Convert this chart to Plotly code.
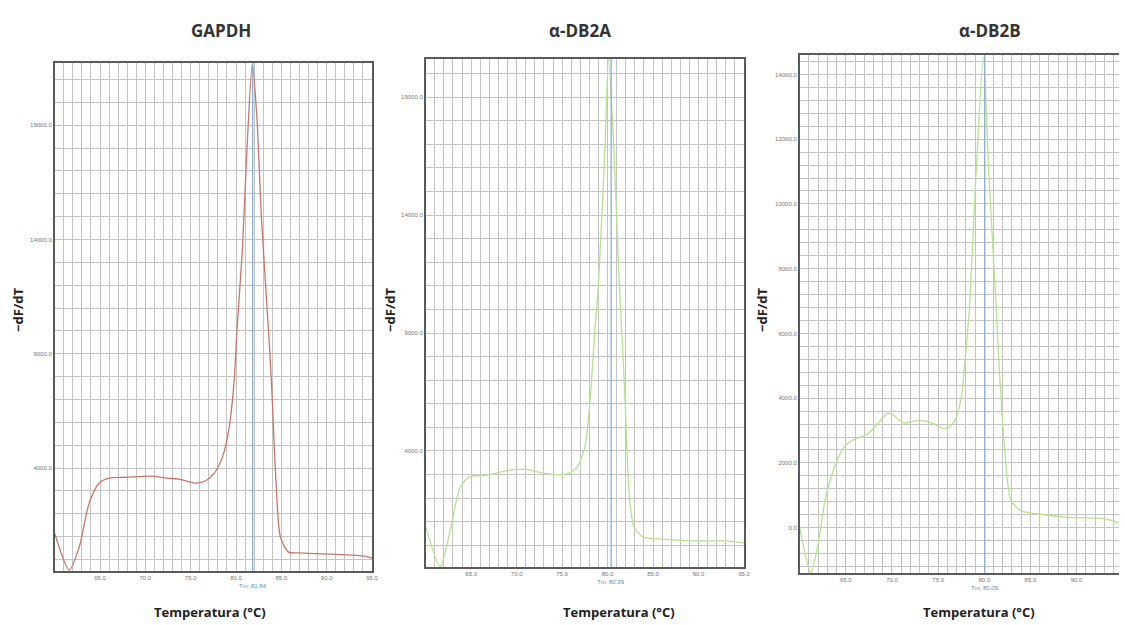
import plotly.graph_objects as go

# ---------------- data ----------------
titles = ["GAPDH", "α-DB2A", "α-DB2B"]
tm_values = [81.84, 80.39, 80.05]
tm_labels = ["Tm: 81.84", "Tm: 80.39", "Tm: 80.05"]

gapdh_temp = [60.0, 61.6, 62.7, 63.8, 64.9, 66.0, 67.9, 70.8, 72.3, 73.7, 75.6, 76.7, 77.6,
              78.5, 79.2, 79.8, 80.1, 80.7, 81.2, 81.8, 82.3, 82.8, 83.6, 83.9, 84.4, 84.9,
              85.8, 86.9, 90.5, 94.2, 95.0]
gapdh_val = [1150, -460, 540, 2470, 3340, 3560, 3600, 3650, 3560, 3520, 3345, 3460, 3780,
             4480, 5660, 7850, 10040, 13540, 17900, 21700, 19360, 14980, 9900, 7850, 3475, 980,
             325, 290, 237, 150, 60]

db2a_temp = [60.0, 61.6, 62.7, 63.8, 64.8, 66.8, 69.3, 70.8, 72.3, 73.7, 75.5, 76.6, 77.5,
             78.1, 78.6, 79.0, 79.7, 80.1, 80.7, 81.2, 81.7, 81.9, 82.4, 82.9, 83.9, 85.7,
             89.4, 93.0, 95.0]
db2a_val = [780, -900, 650, 2470, 2900, 2980, 3190, 3230, 3110, 3020, 3020, 3280, 4170,
            6290, 9130, 11120, 16760, 20600, 16760, 11800, 8000, 6290, 2050, 780, 350, 270,
            185, 185, 100]

db2b_temp = [60.0, 61.2, 62.0, 62.8, 63.9, 64.9, 66.0, 67.4, 68.5, 69.6, 70.3, 71.2, 72.5,
             73.5, 74.6, 75.7, 76.4, 77.1, 77.6, 78.0, 78.4, 79.1, 79.9, 80.5, 81.3, 81.6,
             82.2, 82.9, 84.0, 85.7, 89.4, 92.9, 94.6]
db2b_val = [0, -1390, -490, 920, 1970, 2525, 2740, 2900, 3235, 3540, 3450, 3235, 3300,
            3300, 3200, 3050, 3150, 3510, 4220, 5450, 6780, 10900, 14540, 10900, 6780, 5050,
            2460, 830, 520, 430, 310, 280, 150]

x_tick_vals = [65, 70, 75, 80, 85, 90, 95]
y_tick_vals_ab = [4000, 9000, 14000, 19000]
y_tick_vals_c = [0, 2000, 4000, 6000, 8000, 10000, 12000, 14000]

x_ranges = [[60, 95], [60, 95], [60, 94.6]]
y_ranges = [[-500, 21720], [-920, 20620], [-1400, 14600]]
y_minor = [1000, 1000, 400]

curve_colors = ["#c8766c", "#b9e08f", "#b9e08f"]

# ---------------- layout geometry (pixels) ----------------
W, H = 1125, 625
panels_px = [  # left, right, top, bottom
    (55, 374, 63, 571),
    (428, 748, 59, 567),
    (804, 1125, 55, 573),
]
title_px = [222, 583, 995]
ytitle_x = [18, 392, 766]
xtitle_cx = [211, 622, 984]

fig = go.Figure()
series = [(gapdh_temp, gapdh_val), (db2a_temp, db2a_val), (db2b_temp, db2b_val)]
ytick_sets = [y_tick_vals_ab, y_tick_vals_ab, y_tick_vals_c]

grid_col = "#c4c4c4"
frame_col = "#5a5a5a"

for i, ((xs, ys), (l, r, t, b)) in enumerate(zip(series, panels_px)):
    n = "" if i == 0 else str(i + 1)
    fig.add_trace(go.Scatter(
        x=xs, y=ys, mode="lines", line=dict(color=curve_colors[i], width=1.3, shape="spline", smoothing=0.7),
        xaxis="x" + n, yaxis="y" + n, showlegend=False, hoverinfo="skip"))
    xa = dict(
        domain=[l / W, min(r / W, 1.0)], anchor="y" + n, range=x_ranges[i],
        tickvals=x_tick_vals, tickformat=".1f", showgrid=True, gridcolor=grid_col, gridwidth=1,
        minor=dict(dtick=1, tick0=60, showgrid=True, gridcolor=grid_col, gridwidth=1),
        showline=True, linecolor=frame_col, linewidth=1.5, mirror=True,
        ticks="", tickfont=dict(size=6, color="#777777", family="Liberation Sans"), zeroline=False,
    )
    ya = dict(
        domain=[1 - b / H, 1 - t / H], anchor="x" + n, range=y_ranges[i],
        tickvals=ytick_sets[i], tickformat=".1f", showgrid=True, gridcolor=grid_col, gridwidth=1,
        minor=dict(dtick=y_minor[i], tick0=0, showgrid=True, gridcolor=grid_col, gridwidth=1),
        showline=True, linecolor=frame_col, linewidth=1.5, mirror=(i < 2),
        ticks="", tickfont=dict(size=6, color="#777777", family="Liberation Sans"), zeroline=False,
    )
    fig.layout["xaxis" + n] = xa
    fig.layout["yaxis" + n] = ya

    # Tm marker line
    fig.add_shape(type="line", xref="x" + n, yref="y" + n + " domain",
                  x0=tm_values[i], x1=tm_values[i], y0=0, y1=1,
                  line=dict(color="#8aaed3", width=1.3))
    fig.add_annotation(x=tm_values[i], xref="x" + n, y=1 - (b + 10) / H, yref="paper",
                       text=tm_labels[i], showarrow=False, yanchor="top",
                       font=dict(size=6, color="#5b8fc7", family="Liberation Sans"))

    # panel title
    fig.add_annotation(x=title_px[i] / W, y=1 - 30 / H, xref="paper", yref="paper",
                       xanchor="center", yanchor="middle",
                       text="<b>" + titles[i] + "</b>", showarrow=False,
                       font=dict(size=17, color="#333333", family="Open Sans"))
    # y title
    fig.add_annotation(x=ytitle_x[i] / W, y=1 - 310 / H, xref="paper", yref="paper",
                       xanchor="center", yanchor="middle",
                       text="<b>−dF/dT</b>", showarrow=False, textangle=-90,
                       font=dict(size=13, color="#222222", family="Open Sans"))
    # x title
    fig.add_annotation(x=xtitle_cx[i] / W, y=1 - 612 / H, xref="paper", yref="paper",
                       xanchor="center", yanchor="middle",
                       text="<b>Temperatura (°C)</b>", showarrow=False,
                       font=dict(size=13, color="#222222", family="Open Sans"))

fig.update_layout(
    width=W, height=H, margin=dict(l=0, r=0, t=0, b=0),
    paper_bgcolor="white", plot_bgcolor="white", showlegend=False,
)

fig.write_html("out.html", config={"displayModeBar": False},
               post_script="document.body.style.margin='0';document.body.style.overflow='hidden';")
